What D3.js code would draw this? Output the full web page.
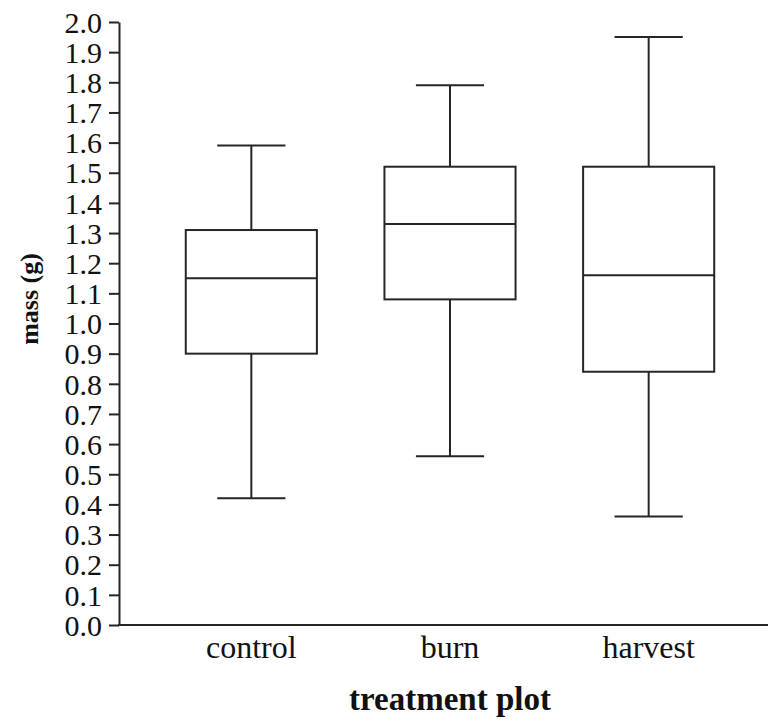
<!DOCTYPE html>
<html>
<head>
<meta charset="utf-8">
<script src="https://cdn.jsdelivr.net/npm/d3@7"></script>
<style>
  html, body { margin: 0; padding: 0; background: #fff; }
  svg { display: block; }
</style>
</head>
<body>
<svg id="chart" width="768" height="721"></svg>
<script>
// Treatment groups and their box-plot summaries (mass in grams)
const categories = ["control", "burn", "harvest"];
const whiskerLow  = [0.42, 0.56, 0.36];
const quartile1   = [0.90, 1.08, 0.84];
const medians     = [1.15, 1.33, 1.16];
const quartile3   = [1.31, 1.52, 1.52];
const whiskerHigh = [1.59, 1.79, 1.95];
const yTicks = d3.range(0, 21).map(i => i / 10);

const ink = "#262626";
const serif = "'Liberation Serif', 'Times New Roman', serif";
const svg = d3.select("#chart");

const x = d3.scaleBand()
  .domain(categories)
  .range([152, 748])
  .paddingInner(0.34)
  .paddingOuter(0.17);

const y = d3.scaleLinear().domain([0, 2]).range([625, 22]);

const boxes = categories.map((c, i) => ({
  name: c, lo: whiskerLow[i], q1: quartile1[i], med: medians[i],
  q3: quartile3[i], hi: whiskerHigh[i]
}));

// Y axis with ticks every 0.1
const yAxis = svg.append("g")
  .attr("transform", "translate(119,0)")
  .call(d3.axisLeft(y).tickValues(yTicks).tickFormat(d3.format(".1f")).tickSize(10).tickSizeOuter(0));
yAxis.select(".domain").attr("stroke", ink).attr("stroke-width", 2);
yAxis.selectAll(".tick line").attr("stroke", ink).attr("stroke-width", 2);
yAxis.selectAll(".tick text")
  .attr("x", -17)
  .attr("dy", "0.34em")
  .attr("fill", "#111")
  .style("font-family", serif)
  .style("font-size", "30px");

// X axis baseline and category labels
const xAxis = svg.append("g")
  .attr("transform", "translate(0,625)")
  .call(d3.axisBottom(x).tickSize(0));
xAxis.select(".domain").remove();
xAxis.append("line")
  .attr("x1", 118).attr("x2", 768)
  .attr("stroke", ink).attr("stroke-width", 2);
xAxis.selectAll(".tick text")
  .attr("y", 33)
  .attr("dy", 0)
  .attr("fill", "#111")
  .style("font-family", serif)
  .style("font-size", "32px");

// Box plots
const g = svg.append("g").attr("fill", "none").attr("stroke", ink).attr("stroke-width", 2);
const capW = x.bandwidth() * 0.52;
const mid = d => x(d.name) + x.bandwidth() / 2;

const bx = g.selectAll("g.box").data(boxes).join("g").attr("class", "box");

bx.append("line")
  .attr("x1", mid).attr("x2", mid)
  .attr("y1", d => y(d.hi)).attr("y2", d => y(d.q3));
bx.append("line")
  .attr("x1", mid).attr("x2", mid)
  .attr("y1", d => y(d.q1)).attr("y2", d => y(d.lo));
bx.append("line")
  .attr("x1", d => mid(d) - capW / 2)
  .attr("x2", d => mid(d) + capW / 2)
  .attr("y1", d => y(d.hi)).attr("y2", d => y(d.hi));
bx.append("line")
  .attr("x1", d => mid(d) - capW / 2)
  .attr("x2", d => mid(d) + capW / 2)
  .attr("y1", d => y(d.lo)).attr("y2", d => y(d.lo));
bx.append("rect")
  .attr("x", d => x(d.name))
  .attr("width", x.bandwidth())
  .attr("y", d => y(d.q3))
  .attr("height", d => y(d.q1) - y(d.q3));
bx.append("line")
  .attr("x1", d => x(d.name))
  .attr("x2", d => x(d.name) + x.bandwidth())
  .attr("y1", d => y(d.med)).attr("y2", d => y(d.med));

// Axis titles
svg.append("text")
  .attr("x", 450).attr("y", 710)
  .attr("text-anchor", "middle")
  .attr("fill", "#111")
  .style("font-family", serif)
  .style("font-weight", "bold")
  .style("font-size", "33px")
  .text("treatment plot");

svg.append("text")
  .attr("transform", "translate(38,299) rotate(-90)")
  .attr("text-anchor", "middle")
  .attr("fill", "#111")
  .style("font-family", serif)
  .style("font-weight", "bold")
  .style("font-size", "26px")
  .text("mass (g)");
</script>
</body>
</html>
